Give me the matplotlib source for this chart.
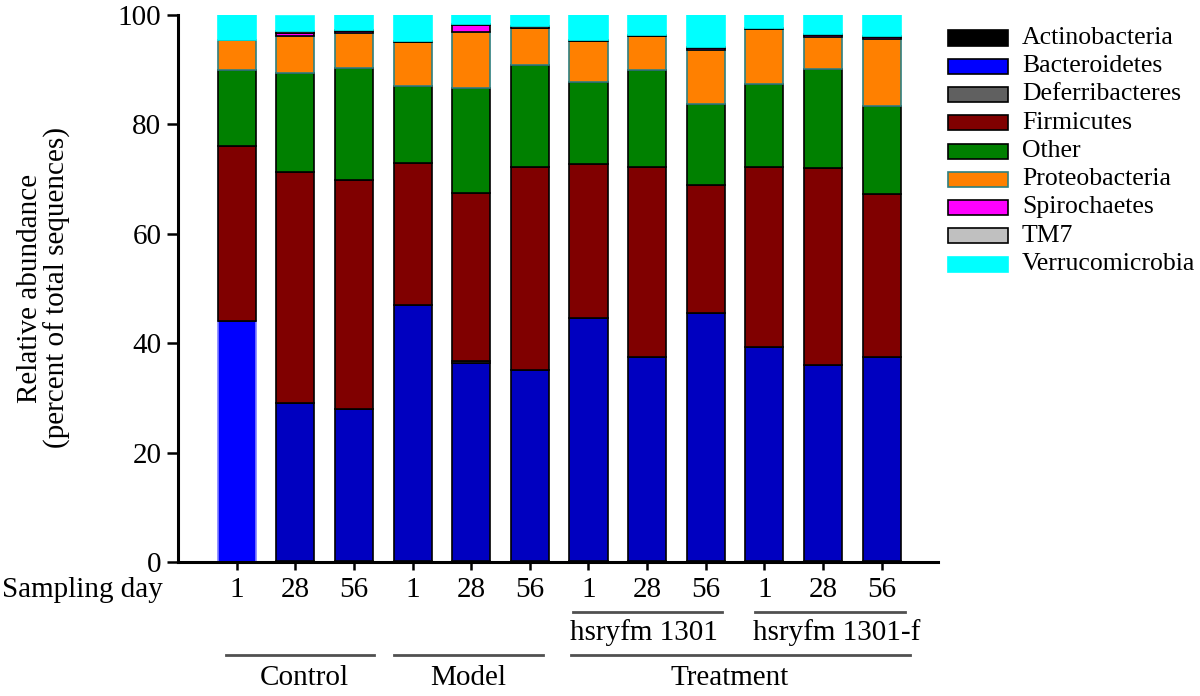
import matplotlib
matplotlib.use("Agg")
import matplotlib.pyplot as plt
from matplotlib.patches import Rectangle
import numpy as np

plt.rcParams['font.family'] = ['Liberation Serif', 'DejaVu Serif']

days = ["1", "28", "56", "1", "28", "56", "1", "28", "56", "1", "28", "56"]
phyla = ["Actinobacteria", "Bacteroidetes", "Deferribacteres", "Firmicutes",
         "Other", "Proteobacteria", "Spirochaetes", "TM7", "Verrucomicrobia"]

actinobacteria = [0.0, 0.1, 0.2, 0.1, 0.1, 0.1, 0.1, 0.1, 0.1, 0.1, 0.1, 0.1]
bacteroidetes = [44.0, 28.9, 27.8, 46.8, 36.3, 35.0, 44.5, 37.3, 45.4, 39.2, 35.9, 37.3]
deferribacteres = [0.0, 0.0, 0.0, 0.0, 0.4, 0.0, 0.0, 0.0, 0.0, 0.0, 0.0, 0.0]
firmicutes = [32.1, 42.3, 41.9, 26.1, 30.7, 37.2, 28.2, 34.8, 23.5, 32.9, 36.0, 29.8]
other = [13.8, 18.1, 20.5, 14.0, 19.1, 18.5, 14.9, 17.7, 14.8, 15.2, 18.1, 16.2]
proteobacteria = [5.5, 6.8, 6.4, 8.0, 10.3, 6.8, 7.5, 6.3, 9.8, 10.0, 5.9, 12.2]
spirochaetes = [0.0, 0.5, 0.3, 0.0, 1.2, 0.0, 0.0, 0.0, 0.4, 0.0, 0.3, 0.3]
tm7 = [0.0, 0.3, 0.2, 0.3, 0.2, 0.3, 0.3, 0.2, 0.2, 0.3, 0.3, 0.2]
verrucomicrobia = [4.6, 2.9, 2.7, 4.7, 1.7, 2.1, 4.5, 3.6, 5.8, 2.3, 3.4, 3.9]

groups = ["Control", "Model", "Treatment"]
subgroups = ["hsryfm 1301", "hsryfm 1301-f"]

series = [actinobacteria, bacteroidetes, deferribacteres, firmicutes, other,
          proteobacteria, spirochaetes, tm7, verrucomicrobia]
colors = ["#000000", "#0000FF", "#606060", "#800000", "#008000",
          "#FF8000", "#FF00FF", "#C0C0C0", "#00FFFF"]
edges = ["#000000", "#000000", "#000000", "#000000", "#000000",
         "#2F7F7F", "#000000", "#000000", "#00FFFF"]

fig = plt.figure(figsize=(12, 6.96), dpi=100)
ax = fig.add_axes([178/1200, 1-562/696, (938-178)/1200, (562-15)/696])

x = np.arange(len(days))
bottom = np.zeros(len(days))
for i, (vals, c, ec) in enumerate(zip(series, colors, edges)):
    vals = np.array(vals, dtype=float)
    fc = [c] * len(days)
    ecs = [ec] * len(days)
    if phyla[i] == "Bacteroidetes":
        fc = ["#0000FF"] + ["#0000C0"] * (len(days) - 1)
        ecs = ["#8080FF"] + ["#000000"] * (len(days) - 1)
    ax.bar(x, vals, bottom=bottom, width=0.65, color=fc, edgecolor=ecs,
           linewidth=1.2, zorder=2)
    bottom += vals

ax.set_xlim(-1.0, 11.96)
ax.set_ylim(0, 100)
ax.set_yticks([0, 20, 40, 60, 80, 100])
ax.set_xticks(x)
ax.set_xticklabels(days)
ax.tick_params(axis='both', labelsize=21, width=1.8, direction='out')
ax.tick_params(axis='x', length=6, pad=5)
ax.tick_params(axis='y', length=8, pad=4)
for s in ["top", "right"]:
    ax.spines[s].set_visible(False)
for s in ["left", "bottom"]:
    ax.spines[s].set_linewidth(2.2)

fig.text(163/1200, 1-590/696, "Sampling day", ha='right', va='center', fontsize=21)
fig.text(44/1200, 1-288/696, "Relative abundance\n(percent of total sequences)",
         rotation=90, ha='center', va='center', fontsize=21, multialignment='center',
         linespacing=1.05)

tr = ax.get_xaxis_transform()
line_kw = dict(color="#505050", lw=2, transform=tr, clip_on=False)
# sub-group lines
sub_spans = [(5.73, 8.28, 6.95), (8.84, 11.40, 10.24)]
for (a, b, c), lab in zip(sub_spans, subgroups):
    ax.plot([a, b], [-0.0914, -0.0914], **line_kw)
    ax.text(c, -0.128, lab, transform=tr, ha='center', va='center', fontsize=21)
group_spans = [(-0.19, 2.35, 1.16), (2.68, 5.22, 3.94), (5.70, 11.48, 8.41)]
for (a, b, c), lab in zip(group_spans, groups):
    ax.plot([a, b], [-0.170, -0.170], **line_kw)
    ax.text(c, -0.212, lab, transform=tr, ha='center', va='center', fontsize=21)

# legend
for i, (name, c, ec) in enumerate(zip(phyla, colors, edges)):
    yc = 38 + 28.25 * i
    fig.patches.append(Rectangle((948/1200, 1-(yc+7.5)/696), 60/1200, 15/696,
                                 facecolor=c, edgecolor=ec,
                                 linewidth=1.2, transform=fig.transFigure, figure=fig))
    fig.text(1022/1200, 1-yc/696, name, ha='left', va='center', fontsize=18.5)

fig.savefig("out.png", dpi=100)
